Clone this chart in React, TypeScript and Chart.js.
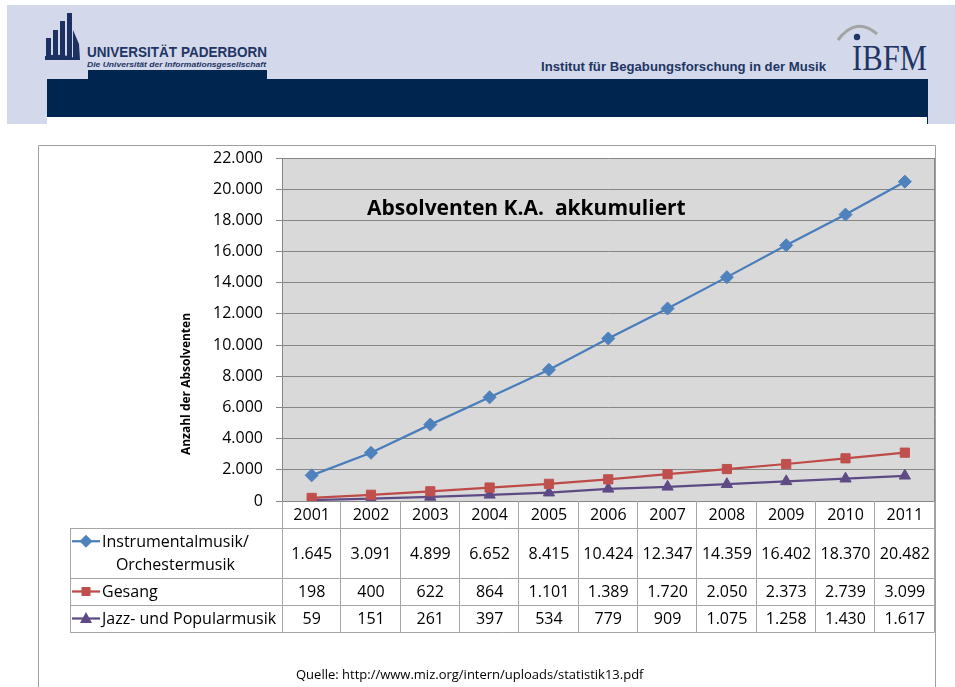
import React, { useEffect, useRef } from 'react';
import { Chart, registerables } from 'chart.js';

Chart.register(...registerables);

// ---------- data ----------
const years = ['2001', '2002', '2003', '2004', '2005', '2006', '2007', '2008', '2009', '2010', '2011'];
const instrumentalValues = [1645, 3091, 4899, 6652, 8415, 10424, 12347, 14359, 16402, 18370, 20482];
const gesangValues = [198, 400, 622, 864, 1101, 1389, 1720, 2050, 2373, 2739, 3099];
const jazzValues = [59, 151, 261, 397, 534, 779, 909, 1075, 1258, 1430, 1617];
const seriesLabels = ['Instrumentalmusik/ Orchestermusik', 'Gesang', 'Jazz- und Popularmusik'];
const legendLines = [['Instrumentalmusik/', 'Orchestermusik'], ['Gesang'], ['Jazz- und Popularmusik']];
const yMin = 0;
const yMax = 22000;
const yStep = 2000;
const chartTitle = 'Absolventen K.A.  akkumuliert';
const yAxisTitle = 'Anzahl der Absolventen';
const sourceText = 'Quelle: http://www.miz.org/intern/uploads/statistik13.pdf';
const headerUni = 'UNIVERSITÄT PADERBORN';
const headerUniSub = 'Die Universität der Informationsgesellschaft';
const headerInstitute = 'Institut für Begabungsforschung in der Musik';
const headerLogo = 'IBFM';

// ---------- styles ----------
const FONT = '"Open Sans", "Noto Sans", sans-serif';
const seriesStyles = [
  { line: '#4a7ebb', fill: '#4f81bd', point: 'rectRot', radius: 6.5 },
  { line: '#be4b48', fill: '#c0504d', point: 'rect', radius: 6.5 },
  { line: '#5e4b85', fill: '#5e4b85', point: 'triangle', radius: 6.5 },
];
const seriesData = [instrumentalValues, gesangValues, jazzValues];

const fmt = (n: number) => String(n).replace(/\B(?=(\d{3})+(?!\d))/g, '.');

function drawMarker(ctx: CanvasRenderingContext2D, kind: string, x: number, y: number, color: string) {
  ctx.save();
  ctx.fillStyle = color;
  ctx.beginPath();
  if (kind === 'rectRot') {
    ctx.moveTo(x, y - 6.5);
    ctx.lineTo(x + 6.5, y);
    ctx.lineTo(x, y + 6.5);
    ctx.lineTo(x - 6.5, y);
  } else if (kind === 'rect') {
    ctx.rect(x - 4.5, y - 4.5, 9, 9);
  } else {
    ctx.moveTo(x, y - 6.5);
    ctx.lineTo(x + 6, y + 4.5);
    ctx.lineTo(x - 6, y + 4.5);
  }
  ctx.closePath();
  ctx.fill();
  ctx.restore();
}

const slidePlugin = {
  id: 'slidePlugin',
  beforeDraw(chart: any) {
    const { ctx, chartArea: a, width, height } = chart;
    ctx.save();
    ctx.fillStyle = '#ffffff';
    ctx.fillRect(0, 0, width, height);
    // outer frame
    ctx.strokeStyle = '#a0a0a0';
    ctx.lineWidth = 1;
    ctx.beginPath();
    ctx.moveTo(0.5, height + 5);
    ctx.lineTo(0.5, 0.5);
    ctx.lineTo(width - 1.5, 0.5);
    ctx.lineTo(width - 1.5, height + 5);
    ctx.stroke();
    // plot area fill
    ctx.fillStyle = '#d9d9d9';
    ctx.fillRect(a.left, a.top, a.right - a.left, a.bottom - a.top);
    ctx.restore();
  },
  beforeDatasetsDraw(chart: any) {
    const { ctx, chartArea: a } = chart;
    ctx.save();
    ctx.strokeStyle = '#868686';
    ctx.lineWidth = 1;
    ctx.beginPath();
    ctx.moveTo(Math.round(a.right) - 0.5, a.top);
    ctx.lineTo(Math.round(a.right) - 0.5, a.bottom);
    ctx.stroke();
    // chart title inside plot
    ctx.fillStyle = '#000';
    ctx.font = `bold 21px ${FONT}`;
    ctx.textAlign = 'left';
    ctx.textBaseline = 'middle';
    ctx.fillText(chartTitle, a.left + 85, a.top + 51);
    ctx.restore();
  },
  afterDraw(chart: any) {
    const { ctx, chartArea: a } = chart;
    const xs = chart.scales.x;
    const n = years.length;
    const cw = (a.right - a.left) / n;
    const rowHeights = [27, 50, 27, 27];
    const rowTops = [a.bottom];
    rowHeights.forEach((h, i) => rowTops.push(rowTops[i] + h));
    const tableLeft = 32;
    ctx.save();
    ctx.strokeStyle = '#a6a6a6';
    ctx.lineWidth = 1;
    ctx.beginPath();
    for (let r = 1; r < rowTops.length; r++) {
      const y = Math.round(rowTops[r]) + 0.5;
      ctx.moveTo(tableLeft, y);
      ctx.lineTo(a.right, y);
    }
    for (let i = 1; i <= n; i++) {
      const x = Math.round(a.left + i * cw) - 0.5;
      ctx.moveTo(x, a.bottom);
      ctx.lineTo(x, rowTops[rowTops.length - 1] + 0.5);
    }
    const lx = Math.round(a.left) + 0.5;
    ctx.moveTo(lx, a.bottom);
    ctx.lineTo(lx, rowTops[rowTops.length - 1] + 0.5);
    ctx.moveTo(tableLeft + 0.5, rowTops[1]);
    ctx.lineTo(tableLeft + 0.5, rowTops[rowTops.length - 1] + 0.5);
    ctx.stroke();

    // year row
    ctx.fillStyle = '#000';
    ctx.font = `16px ${FONT}`;
    ctx.textAlign = 'center';
    ctx.textBaseline = 'middle';
    years.forEach((yr, i) => {
      ctx.fillText(yr, xs.getPixelForValue(i), (rowTops[0] + rowTops[1]) / 2 + 1);
    });
    // value rows
    seriesData.forEach((vals, s) => {
      const yc = (rowTops[s + 1] + rowTops[s + 2]) / 2 + 1;
      vals.forEach((v, i) => {
        ctx.fillText(fmt(v), xs.getPixelForValue(i), yc);
      });
    });
    // legend keys + labels
    seriesStyles.forEach((st, s) => {
      const lines = legendLines[s];
      const top = rowTops[s + 1];
      const bottom = rowTops[s + 2];
      const mid = (top + bottom) / 2;
      const lineGap = 23.5;
      const firstY = mid - ((lines.length - 1) * lineGap) / 2;
      const keyY = firstY;
      ctx.strokeStyle = st.line;
      ctx.lineWidth = 2.25;
      ctx.beginPath();
      ctx.moveTo(34, keyY);
      ctx.lineTo(62, keyY);
      ctx.stroke();
      drawMarker(ctx, st.point, 48, keyY, st.fill);
      ctx.fillStyle = '#000';
      ctx.font = `16px ${FONT}`;
      ctx.textBaseline = 'middle';
      const textLeft = 64;
      const w0 = ctx.measureText(lines[0]).width;
      ctx.textAlign = 'center';
      lines.forEach((ln, k) => {
        ctx.fillText(ln, textLeft + w0 / 2, firstY + k * lineGap + 1);
      });
    });

    // y-axis title
    ctx.save();
    ctx.translate(149, 239);
    ctx.rotate(-Math.PI / 2);
    ctx.font = `bold 12px ${FONT}`;
    ctx.fillStyle = '#000';
    ctx.textAlign = 'center';
    ctx.textBaseline = 'middle';
    ctx.fillText(yAxisTitle, 0, 0);
    ctx.restore();

    // source
    ctx.font = `13px ${FONT}`;
    ctx.fillStyle = '#000';
    ctx.textAlign = 'left';
    ctx.textBaseline = 'middle';
    ctx.fillText(sourceText, 258, 530);
    ctx.restore();
  },
};

function Header() {
  const light = '#d3d9eb';
  const navy = '#00264f';
  const textNavy = '#1f3563';
  return (
    <svg width={955} height={130} style={{ position: 'absolute', left: 0, top: 0 }}>
      <rect x={7} y={5} width={948} height={112} fill={light} />
      <rect x={7} y={117} width={40} height={7} fill={light} />
      <rect x={928} y={117} width={27} height={7} fill={light} />
      <rect x={927} y={117} width={1} height={7} fill={navy} />
      <rect x={47} y={79} width={881} height={38} fill={navy} />
      <rect x={88} y={70} width={179} height={9} fill={navy} />
      {/* university logo mark */}
      <g fill="#1c3161">
        <rect x={46} y={38} width={5} height={20} />
        <rect x={53} y={30} width={5} height={28} />
        <rect x={60} y={21} width={5} height={37} />
        <rect x={67} y={13} width={5} height={45} />
        <path d="M73 30 L79 44 L80 60 L73 60 Z" />
        <path d="M45 56 Q62 52 80 60 L45 60 Z" />
      </g>
      <text x={87} y={57} fontFamily="'Liberation Sans', Arial, sans-serif" fontWeight="bold" fontSize={15.5}
        fill={textNavy} textLength={180} lengthAdjust="spacingAndGlyphs">{headerUni}</text>
      <text x={87} y={67} fontFamily="'Liberation Sans', Arial, sans-serif" fontWeight="bold" fontStyle="italic" fontSize={8}
        fill={textNavy} textLength={179} lengthAdjust="spacingAndGlyphs">{headerUniSub}</text>
      <text x={541} y={71} fontFamily="'Liberation Sans Narrow', 'Liberation Sans', Arial, sans-serif" fontWeight="bold" fontSize={13}
        fill={textNavy} textLength={285} lengthAdjust="spacingAndGlyphs">{headerInstitute}</text>
      <path d="M838 40 Q856 16 877 34" stroke="#a3a3a3" strokeWidth={3} fill="none" />
      <circle cx={857} cy={37} r={3.2} fill={textNavy} />
      <text x={852} y={70} fontFamily="'Liberation Serif', 'DejaVu Serif', serif" fontSize={35}
        fill={textNavy} textLength={75} lengthAdjust="spacingAndGlyphs">{headerLogo}</text>
    </svg>
  );
}

export default function App() {
  const ref = useRef<HTMLCanvasElement>(null);
  useEffect(() => {
    const canvas = ref.current;
    if (!canvas) return;
    const chart = new Chart(canvas, {
      type: 'line',
      data: {
        labels: years,
        datasets: seriesData.map((vals, s) => ({
          label: seriesLabels[s],
          data: vals,
          borderColor: seriesStyles[s].line,
          backgroundColor: seriesStyles[s].fill,
          pointBackgroundColor: seriesStyles[s].fill,
          pointBorderColor: seriesStyles[s].fill,
          pointBorderWidth: 1,
          pointStyle: seriesStyles[s].point as any,
          pointRadius: seriesStyles[s].radius,
          borderWidth: 2.25,
          tension: 0,
          fill: false,
        })),
      },
      options: {
        responsive: false,
        animation: false,
        devicePixelRatio: 1,
        layout: { autoPadding: false, padding: { left: 0, top: 13, right: 2.5, bottom: 186 } },
        plugins: {
          legend: { display: false },
          tooltip: { enabled: false },
          title: { display: false },
        },
        scales: {
          x: { type: 'category', display: false, offset: true },
          y: {
            min: yMin,
            max: yMax,
            ticks: {
              stepSize: yStep,
              callback: (v: any) => fmt(Number(v)),
              color: '#000',
              font: { family: FONT, size: 16 },
              padding: 13,
            },
            grid: { color: '#868686', lineWidth: 1, drawTicks: true, tickLength: 6, tickColor: '#868686' },
            border: { color: '#868686', width: 1 },
            afterFit: (s: any) => {
              s.width = 244;
              s.paddingTop = 0;
              s.paddingBottom = 0;
              s.paddingLeft = 0;
              s.paddingRight = 0;
            },
          },
        },
      },
      plugins: [slidePlugin],
    } as any);
    return () => chart.destroy();
  }, []);

  return (
    <div style={{ position: 'absolute', left: 0, top: 0, width: 955, height: 687, overflow: 'hidden', background: '#fff' }}>
      <Header />
      <canvas
        ref={ref}
        width={899}
        height={542}
        style={{ position: 'absolute', left: 38, top: 145, width: 899, height: 542, display: 'block' }}
      />
    </div>
  );
}
